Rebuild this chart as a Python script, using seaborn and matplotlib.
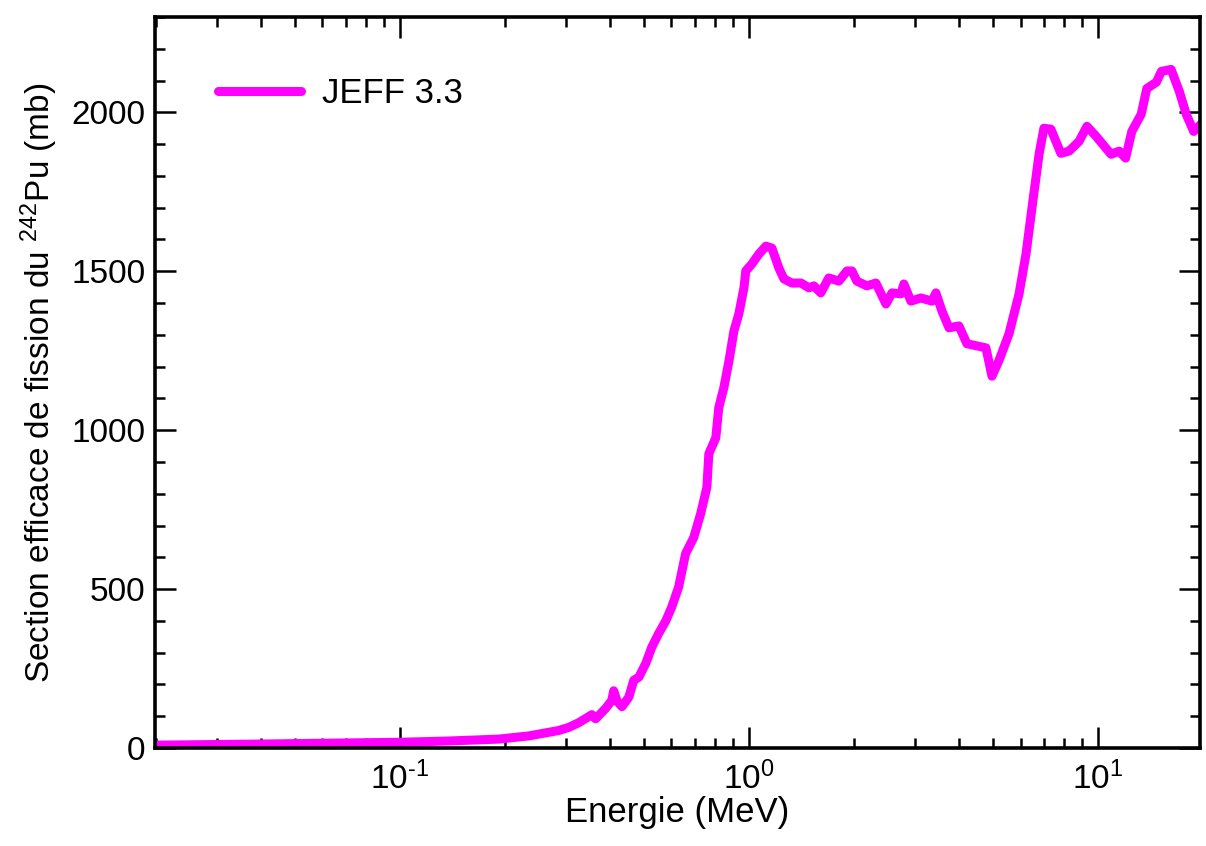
import numpy as np
import pandas as pd
import matplotlib
matplotlib.use("Agg")
import matplotlib.pyplot as plt
from matplotlib.ticker import LogLocator, MultipleLocator, NullFormatter, FuncFormatter
import seaborn as sns

# Data (energy in MeV, fission cross section in mb)
energy = [0.0199, 0.0369, 0.100, 0.138, 0.192, 0.234, 0.285, 0.305, 0.326,
          0.355, 0.364, 0.389, 0.405, 0.410, 0.419, 0.433, 0.453, 0.468, 0.484,
          0.507, 0.527, 0.552, 0.578, 0.601, 0.629, 0.659, 0.695, 0.728, 0.758,
          0.768, 0.804, 0.820, 0.848, 0.877, 0.906, 0.936, 0.968, 0.980, 1.020,
          1.068, 1.119, 1.164, 1.219, 1.260, 1.328, 1.410, 1.485, 1.535, 1.607,
          1.694, 1.811, 1.909, 1.973, 2.038, 2.178, 2.311, 2.470, 2.570, 2.726,
          2.780, 2.912, 3.110, 3.345, 3.434, 3.573, 3.743, 3.997, 4.213, 4.776,
          4.97, 5.20, 5.56, 5.94, 6.22, 6.47, 6.78, 7.00, 7.33, 7.83, 8.26,
          8.83, 9.30, 9.87, 10.9, 11.5, 12.0, 12.5, 13.3, 13.8, 14.7, 15.2,
          16.2, 17.1, 17.9, 18.8, 19.7]
sigma = [9, 12, 18, 22, 28, 38, 55, 65, 80,
         105, 92, 125, 150, 180, 148, 130, 160, 213, 223,
         267, 317, 361, 400, 443, 506, 612, 662, 738, 820,
         926, 976, 1071, 1134, 1218, 1312, 1366, 1448, 1501, 1523,
         1554, 1579, 1573, 1510, 1476, 1463, 1463, 1448, 1454, 1432,
         1479, 1469, 1501, 1501, 1469, 1454, 1463, 1397, 1432, 1429,
         1460, 1406, 1416, 1406, 1432, 1375, 1322, 1328, 1272, 1259,
         1170, 1218, 1303, 1428, 1554, 1699, 1868, 1950, 1947, 1871, 1878,
         1909, 1956, 1925, 1868, 1878, 1856, 1940, 1994, 2075, 2095, 2129,
         2135, 2066, 1994, 1940, 1962]

series_label = "JEFF 3.3"
x_label = "Energie (MeV)"
y_label = r"Section efficace de fission du $^{242}$Pu (mb)"

df = pd.DataFrame({"E": energy, "sigma": sigma, "set": series_label})

sns.set_theme(style="ticks")
plt.rcParams["font.family"] = ["Liberation Sans", "DejaVu Sans"]
plt.rcParams["mathtext.fontset"] = "custom"
plt.rcParams["mathtext.rm"] = "Liberation Sans"
plt.rcParams["mathtext.it"] = "Liberation Sans:italic"
plt.rcParams["mathtext.bf"] = "Liberation Sans:bold"
plt.rcParams["axes.unicode_minus"] = False
plt.rcParams["text.color"] = "black"
plt.rcParams["axes.labelcolor"] = "black"

fig = plt.figure(figsize=(12.06, 8.46), dpi=100)
ax = fig.add_axes([155 / 1206, 1 - 748 / 846, 1045 / 1206, 731 / 846])

sns.lineplot(data=df, x="E", y="sigma", hue="set", palette=["#ff00ff"],
             linewidth=6.5, ax=ax, estimator=None, sort=False)

ax.set_xscale("log")
ax.set_xlim(0.0199, 19.6)
ax.set_ylim(0, 2300)


def decade_label(v, pos):
    e = int(round(np.log10(v)))
    if e < 0:
        return r"$10^{\text{-}%d}$" % (-e)
    return r"$10^{%d}$" % e


ax.xaxis.set_major_locator(LogLocator(base=10, numticks=10))
ax.xaxis.set_major_formatter(FuncFormatter(decade_label))
ax.xaxis.set_minor_locator(LogLocator(base=10, subs=np.arange(2, 10), numticks=20))
ax.xaxis.set_minor_formatter(NullFormatter())
ax.yaxis.set_major_locator(MultipleLocator(500))
ax.yaxis.set_minor_locator(MultipleLocator(100))

for side in ["top", "bottom", "left", "right"]:
    ax.spines[side].set_visible(True)
    ax.spines[side].set_linewidth(2.6)
    ax.spines[side].set_color("black")

ax.tick_params(which="both", direction="in", top=True, right=True,
               colors="black", labelsize=24)
ax.tick_params(which="major", length=15, width=1.8)
ax.tick_params(which="minor", length=7.5, width=1.8)
ax.tick_params(axis="x", which="major", pad=10)
ax.tick_params(axis="y", which="major", pad=7)

ax.set_xlabel(x_label, fontsize=25, labelpad=0)
ax.set_ylabel(y_label, fontsize=24, labelpad=8)

leg = ax.legend(loc="center left", bbox_to_anchor=(0.03, 0.895), frameon=False,
                fontsize=25, handlelength=2.4, handletextpad=0.6)
for line in leg.get_lines():
    line.set_linewidth(6.5)

fig.savefig("out.png", dpi=100)
